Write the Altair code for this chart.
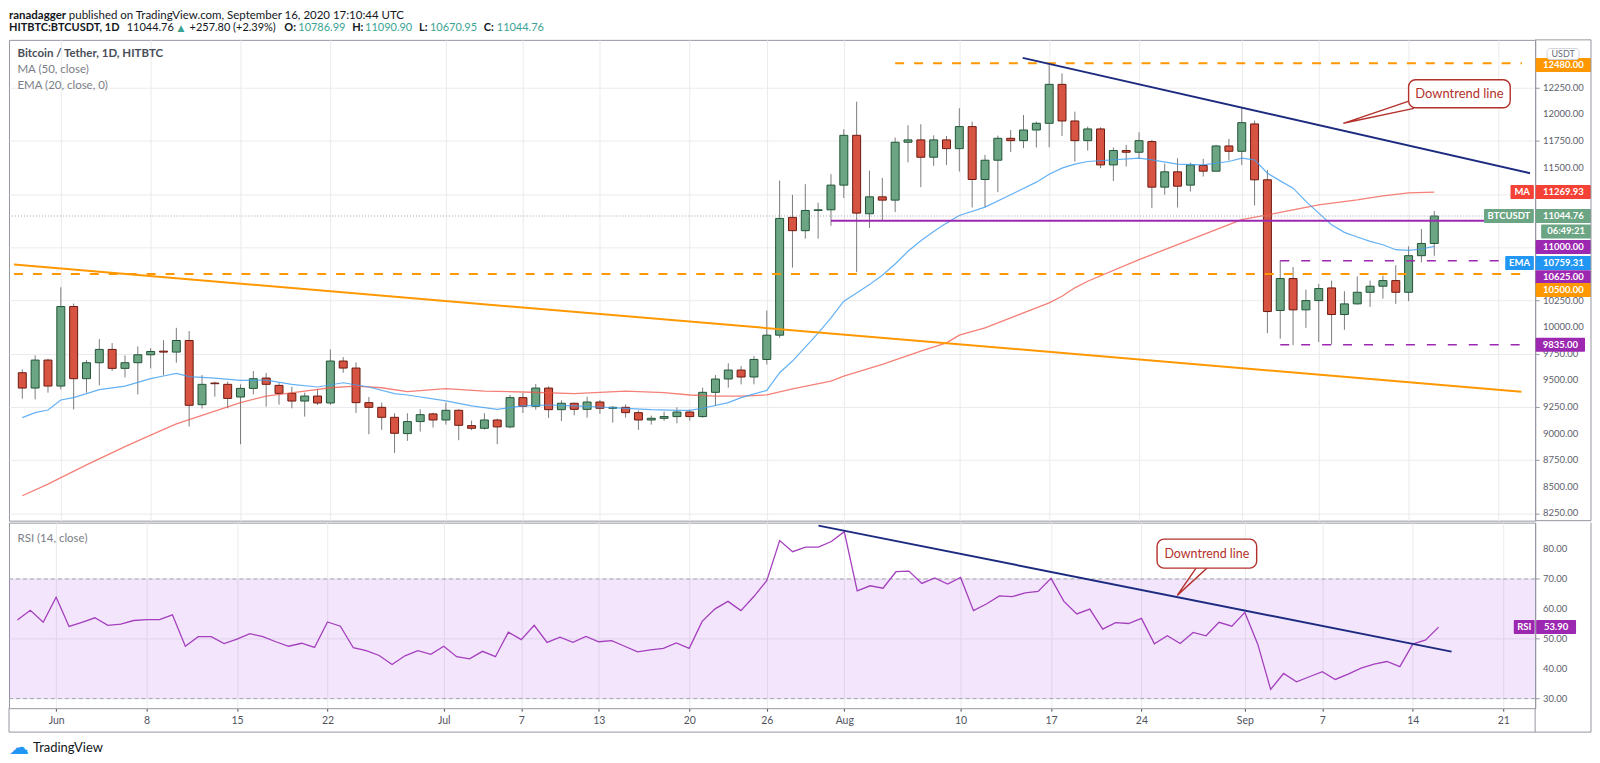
import altair as alt
import numpy as np
import pandas as pd

W = 1530
H_PRICE = 482
H_RSI = 186
FONT = "Lato"

# ---------------- data ----------------
candle_dates = pd.date_range("2020-05-29", "2020-09-16", freq="D").strftime("%Y-%m-%d").tolist()
opens = [9572, 9428, 9691,
         9447, 10194, 9516, 9666, 9791, 9613, 9666, 9741, 9775, 9766, 9875, 9272, 9475, 9463, 9344,
         9425, 9522, 9453, 9378, 9306, 9353, 9288, 9682, 9616, 9291, 9247, 9153, 9000, 9113, 9185,
         9128, 9219, 9075, 9050, 9128, 9063, 9338, 9257, 9428, 9225, 9285, 9228, 9297, 9238, 9247,
         9197, 9128, 9144, 9160, 9203, 9160, 9388, 9513, 9597, 9532, 9697, 9925, 11032, 10907, 11097, 11103,
         11335, 11803, 11066, 11225, 11194, 11738, 11760, 11597, 11760, 11678, 11885, 11388, 11569, 11775,
         11753, 11853, 11916, 12282, 11938, 11753, 11863, 11525, 11660, 11644, 11744, 11316, 11460, 11335,
         11519, 11466, 11703,
         11653, 11910, 11385, 10157, 10457, 10163, 10250, 10369, 10119, 10219, 10328, 10385, 10438, 10328,
         10672, 10787]
highs = [9603, 9735, 9703,
         10375, 10222, 9691, 9888, 9850, 9735, 9819, 9803, 9878, 9994, 9963, 9550, 9488, 9488, 9463,
         9588, 9569, 9478, 9441, 9385, 9416, 9791, 9719, 9669, 9344, 9291, 9191, 9191, 9228, 9197,
         9291, 9228, 9122, 9191, 9141, 9363, 9382, 9466, 9444, 9313, 9291, 9347, 9316, 9260, 9275,
         9219, 9169, 9206, 9247, 9225, 9432, 9550, 9660, 9635, 9728, 10157, 11378, 11244, 11344, 11169, 11438,
         11860, 12119, 11472, 11403, 11782, 11897, 11907, 11803, 11797, 12057, 11932, 11619, 11800, 11853,
         11994, 11932, 12463, 12385, 12025, 11885, 11878, 11688, 11713, 11832, 11760, 11538, 11588, 11547,
         11582, 11713, 11769,
         12063, 11941, 11478, 10628, 10566, 10353, 10407, 10438, 10338, 10478, 10438, 10485, 10582, 10760,
         10922, 11090.90]
lows = [9328, 9322, 9385,
        9416, 9228, 9385, 9453, 9588, 9528, 9369, 9613, 9547, 9666, 9066, 9235, 9347, 9238, 8900,
        9369, 9253, 9272, 9238, 9160, 9269, 9269, 9572, 9194, 8994, 9035, 8819, 8932, 9019, 9057,
        9085, 8938, 9032, 9038, 8900, 9050, 9194, 9225, 9147, 9119, 9172, 9150, 9185, 9103, 9150,
        9035, 9085, 9119, 9097, 9122, 9150, 9260, 9432, 9463, 9463, 9650, 9900, 10560, 10832, 10832, 10953,
        11213, 10519, 10932, 11000, 11082, 11550, 11316, 11516, 11525, 11463, 11125, 11128, 11269, 11647,
        11682, 11688, 11691, 11797, 11557, 11660, 11494, 11375, 11510, 11582, 11119, 11244, 11125, 11275,
        11416, 11463, 11566,
        11525, 11144, 9944, 9891, 9832, 9994, 9860, 9838, 9975, 10213, 10191, 10269, 10219, 10244,
        10610, 10670.95]
closes = [9428, 9691, 9447,
          10194, 9516, 9666, 9791, 9613, 9666, 9741, 9772, 9766, 9875, 9266, 9463, 9469, 9331, 9425,
          9516, 9463, 9378, 9306, 9353, 9288, 9682, 9616, 9291, 9247, 9153, 9003, 9113, 9178, 9128,
          9219, 9078, 9050, 9128, 9063, 9338, 9257, 9428, 9225, 9285, 9228, 9297, 9238, 9247, 9197,
          9128, 9144, 9160, 9203, 9160, 9388, 9513, 9597, 9532, 9697, 9925, 11022, 10907, 11097, 11103, 11335,
          11803, 11072, 11225, 11194, 11738, 11760, 11597, 11760, 11678, 11885, 11388, 11569, 11775, 11753,
          11853, 11916, 12282, 11938, 11753, 11863, 11525, 11660, 11644, 11753, 11316, 11460, 11325, 11525,
          11466, 11703, 11653,
          11922, 11385, 10147, 10457, 10163, 10250, 10363, 10119, 10219, 10328, 10385, 10438, 10328, 10672,
          10786.99, 11044.76]

rsi_values = [56.3, 59.5, 55.5,
              63.9, 54.1, 55.5, 57.0, 54.5, 54.9, 56.1, 56.4, 56.4, 58.0, 47.5, 50.7, 50.7, 48.4, 49.9,
              51.7, 50.7, 49.0, 47.5, 48.5, 47.1, 55.6, 54.2, 47.0, 46.0, 44.4, 41.4, 44.3, 46.0, 44.8,
              47.5, 44.0, 43.3, 45.8, 44.0, 52.2, 49.7, 54.5, 48.8, 50.5, 48.8, 50.8, 49.0, 49.4, 47.5,
              45.6, 46.3, 46.8, 48.6, 46.8, 55.8, 60.0, 62.5, 59.4, 64.1, 69.4, 82.8, 79.1, 80.6, 80.6, 82.5,
              85.8, 66.0, 67.7, 66.9, 72.4, 72.6, 68.5, 70.3, 68.3, 70.5, 59.4, 61.6, 64.3, 64.1, 65.3,
              65.8, 70.2, 62.5, 58.3, 59.9, 53.2, 55.4, 55.1, 56.8, 48.3, 51.0, 48.4, 52.1, 51.0, 55.5, 54.2,
              58.8, 48.2, 33.1, 38.4, 35.6, 37.3, 39.0, 36.4, 38.2, 40.2, 41.5, 42.4, 40.7, 48.2, 49.6, 53.9]

ma_dates = ["2020-05-29", "2020-05-31", "2020-06-03", "2020-06-06", "2020-06-08", "2020-06-10", "2020-06-12",
            "2020-06-15", "2020-06-17", "2020-06-20", "2020-06-22", "2020-06-24", "2020-06-26", "2020-06-28",
            "2020-07-01", "2020-07-04", "2020-07-07", "2020-07-11", "2020-07-15", "2020-07-18", "2020-07-20",
            "2020-07-22", "2020-07-24", "2020-07-26", "2020-07-28", "2020-07-31", "2020-08-01", "2020-08-04",
            "2020-08-07", "2020-08-09", "2020-08-10", "2020-08-12", "2020-08-14", "2020-08-16", "2020-08-17",
            "2020-08-18", "2020-08-19", "2020-08-20", "2020-08-24", "2020-08-27", "2020-08-30", "2020-09-01",
            "2020-09-03", "2020-09-05", "2020-09-07", "2020-09-10", "2020-09-12", "2020-09-14", "2020-09-16"]
ma_values = [8416, 8525, 8706, 8878, 8985, 9091, 9172, 9291, 9353, 9400, 9431, 9447, 9431, 9394,
             9422, 9400, 9391, 9375, 9400, 9385, 9363, 9353, 9353, 9363, 9420, 9494, 9541, 9650,
             9775, 9853, 9925, 9994, 10088, 10182, 10228, 10291, 10370, 10432, 10635, 10775, 10916, 11010,
             11056, 11103, 11150, 11197, 11235, 11262, 11269.93]

ema_dates = ["2020-05-29", "2020-05-30", "2020-05-31",
             "2020-06-01", "2020-06-02", "2020-06-04", "2020-06-06", "2020-06-08", "2020-06-09", "2020-06-10",
             "2020-06-11", "2020-06-13", "2020-06-15", "2020-06-17", "2020-06-19", "2020-06-21", "2020-06-23",
             "2020-06-25", "2020-06-27", "2020-06-28",
             "2020-07-01", "2020-07-03", "2020-07-05", "2020-07-07", "2020-07-09", "2020-07-11", "2020-07-13",
             "2020-07-15", "2020-07-17", "2020-07-19", "2020-07-20", "2020-07-21", "2020-07-23", "2020-07-24",
             "2020-07-26", "2020-07-27", "2020-07-28", "2020-07-29", "2020-07-30", "2020-07-31",
             "2020-08-01", "2020-08-02", "2020-08-03", "2020-08-04", "2020-08-05", "2020-08-06", "2020-08-07",
             "2020-08-08", "2020-08-09", "2020-08-10", "2020-08-12", "2020-08-14", "2020-08-16", "2020-08-17",
             "2020-08-18", "2020-08-19", "2020-08-20", "2020-08-24", "2020-08-25", "2020-08-27", "2020-08-29",
             "2020-08-31",
             "2020-09-01", "2020-09-02", "2020-09-03", "2020-09-04", "2020-09-05", "2020-09-06", "2020-09-07",
             "2020-09-08", "2020-09-09", "2020-09-10", "2020-09-11", "2020-09-12", "2020-09-13", "2020-09-14",
             "2020-09-15", "2020-09-16"]
ema_values = [9150, 9197, 9222,
              9316, 9338, 9413, 9447, 9516, 9541, 9566, 9535, 9522, 9500, 9503, 9463, 9438, 9478, 9438, 9375, 9363,
              9307, 9260, 9228, 9260, 9269, 9260, 9250, 9238, 9225, 9219, 9219, 9238, 9291, 9338, 9406, 9572,
              9682, 9813, 9944, 10088,
              10244, 10322, 10400, 10488, 10594, 10713, 10813, 10900, 10978, 11050, 11128, 11244, 11363, 11438,
              11495, 11532, 11557, 11588, 11572, 11532, 11525, 11557,
              11588, 11572, 11447, 11375, 11307, 11182, 11072, 10963, 10891, 10847, 10806, 10775, 10728, 10722,
              10735, 10759.31]

# horizontal levels drawn on the chart
level_names = ["r12480", "s10500", "s11000", "b10625", "b9835"]
level_values = [12480, 10500, 11000, 10625, 9835]
level_starts = ["2020-08-05T00:00:00Z", "2020-05-28T08:27:00Z", "2020-07-31T00:00:00Z",
                "2020-09-04T00:00:00Z", "2020-09-04T00:00:00Z"]
level_ends = ["2020-09-22T20:00:00Z", "2020-09-22T20:00:00Z", "2020-09-20T00:00:00Z",
              "2020-09-22T20:00:00Z", "2020-09-22T20:00:00Z"]
last_price = 11044.76
ma_last = 11269.93
ema_last = 10759.31
rsi_last = 53.90

# trend lines (start, value, end, value)
orange_trend = ("2020-05-28T08:27:00Z", 10588, "2020-09-22T19:00:00Z", 9394)
price_down_trend = ("2020-08-14T22:30:00Z", 12531, "2020-09-23T11:00:00Z", 11447)
rsi_down_trend = ("2020-07-30T00:00:00Z", 87.8, "2020-09-17T00:00:00Z", 45.7)

x_tick_dates = [(6, 1), (6, 8), (6, 15), (6, 22), (7, 1), (7, 7), (7, 13), (7, 20), (7, 26),
                (8, 1), (8, 10), (8, 17), (8, 24), (9, 1), (9, 7), (9, 14), (9, 21)]
price_ticks = list(range(8250, 12251, 250))
# axis labels that are not hidden behind the price tags
price_tick_labels = [8250, 8500, 8750, 9000, 9250, 9500, 9750, 10000, 10250, 11500, 11750, 12000, 12250]
rsi_ticks = [30, 40, 50, 60, 70, 80]

# ---------------- styles ----------------
ORANGE = "#ff9800"
PURPLE = "#9c27b0"
NAVY = "#1c2a80"
RED = "#f44336"
GREEN = "#6ba583"
BLUE = "#2196f3"
BORDER = "#9598a1"
GRID = "#ebebed"
AXIS_TXT = "#5d606b"
CALLOUT = "#b3302b"

XS = alt.Scale(type="utc", nice=False,
               domain=[alt.DateTime(year=2020, month=5, date=28, hours=8, minutes=27, utc=True),
                       alt.DateTime(year=2020, month=9, date=23, hours=11, minutes=17, utc=True)])
YS = alt.Scale(domain=[8182, 12700], zero=False, nice=False)
RS = alt.Scale(domain=[26.8, 88.8], zero=False, nice=False)
XTICKS = [alt.DateTime(year=2020, month=m, date=d, utc=True) for m, d in x_tick_dates]


def xe(field, axis=None):
    kw = dict(scale=XS, title=None)
    if axis is not None:
        kw["axis"] = axis
    return alt.X(f"{field}:T", **kw)


def ype(field, axis=None):
    kw = dict(scale=YS, title=None)
    if axis is not None:
        kw["axis"] = axis
    return alt.Y(f"{field}:Q", **kw)


def yre(field, axis=None):
    kw = dict(scale=RS, title=None)
    if axis is not None:
        kw["axis"] = axis
    return alt.Y(f"{field}:Q", **kw)


def label(text, x, y, **kw):
    props = dict(align="left", baseline="middle", font=FONT, fontSize=11.5, color="#131722")
    props.update(kw)
    return alt.Chart(pd.DataFrame({"t": [text]})).mark_text(**props).encode(
        x=alt.value(x), y=alt.value(y), text="t:N")


def frame(x, y, x2=None, y2=None):
    enc = dict(x=alt.value(x), y=alt.value(y))
    if x2 is not None:
        enc["x2"] = alt.value(x2)
    if y2 is not None:
        enc["y2"] = alt.value(y2)
    return alt.Chart(pd.DataFrame({"a": [0]})).mark_rule(color=BORDER, strokeWidth=1).encode(**enc)


def axis_labels(values, yfn):
    return alt.Chart(pd.DataFrame({"v": values})).transform_calculate(
        t="format(datum.v, '.2f')").mark_text(
        align="left", baseline="middle", fontSize=9.5, color=AXIS_TXT, font=FONT).encode(
        x=alt.value(W + 8), y=yfn("v"), text="t:N")


def tag(value, text, fill, x0, x1, dy, yfn):
    d = pd.DataFrame({"v": [value], "t": [text]})
    rect = alt.Chart(d).mark_rect(fill=fill, yOffset=dy - 7, y2Offset=dy + 7, cornerRadius=1).encode(
        x=alt.value(x0), x2=alt.value(x1), y=yfn("v"), y2="v")
    txt = alt.Chart(d).mark_text(color="white", fontWeight="bold", fontSize=9.5, dy=dy, font=FONT,
                                 align="center", baseline="middle").encode(
        x=alt.value((x0 + x1) / 2), y=yfn("v"), text="t:N")
    return [rect, txt]


def segment(seg, yfn, **style):
    d = pd.DataFrame({"s": [seg[0]], "v": [seg[1]], "e": [seg[2]], "v2": [seg[3]]})
    return alt.Chart(d).mark_rule(**style).encode(x=xe("s"), x2=alt.X2("e"), y=yfn("v"), y2="v2")


def callout(box, tail, text, yfn, fs=12.5):
    (x0, x1, ylo, yhi) = box
    td = pd.DataFrame({"d": [p[0] for p in tail], "v": [p[1] for p in tail], "o": [0, 1, 2]})
    tail_l = alt.Chart(td).mark_line(color=CALLOUT, strokeWidth=1.4).encode(
        x=xe("d"), y=yfn("v"), order="o:Q")
    bd = pd.DataFrame({"s": [x0], "e": [x1], "lo": [ylo], "hi": [yhi]})
    box_l = alt.Chart(bd).mark_rect(fill="white", stroke=CALLOUT, strokeWidth=1.4, cornerRadius=7).encode(
        x=xe("s"), x2=alt.X2("e"), y=yfn("hi"), y2="lo")
    mid = pd.DataFrame({"s": [x0], "e": [x1], "m": [(ylo + yhi) / 2], "t": [text]})
    txt = alt.Chart(mid).transform_calculate(
        c="(toDate(datum.s) + toDate(datum.e)) / 2").mark_text(
        color=CALLOUT, fontSize=fs, font=FONT, align="center", baseline="middle").encode(
        x=alt.X("c:T", scale=XS, title=None), y=yfn("m"), text="t:N")
    return [tail_l, box_l, txt]


# ---------------- price panel ----------------
cdf = pd.DataFrame({"date": candle_dates, "open": opens, "high": highs, "low": lows, "close": closes})
cdf["dir"] = np.where(cdf["close"] >= cdf["open"], "up", "down")

price_x_axis = alt.Axis(values=XTICKS, labels=False, ticks=False, domain=False, grid=True, gridColor=GRID)
price_y_axis = alt.Axis(orient="right", values=price_ticks, labels=False, tickSize=4,
                        grid=True, gridColor=GRID, domainColor=BORDER, tickColor=BORDER)

wicks = alt.Chart(cdf).mark_rule(color="#7b7b7e", strokeWidth=1).encode(
    x=xe("date", price_x_axis), y=ype("low", price_y_axis), y2="high")
bodies = alt.Chart(cdf).mark_bar(size=8, strokeWidth=1).encode(
    x=xe("date"), y=ype("open"), y2="close",
    fill=alt.Fill("dir:N", scale=alt.Scale(domain=["up", "down"], range=[GREEN, "#d75442"]), legend=None),
    stroke=alt.Stroke("dir:N", scale=alt.Scale(domain=["up", "down"], range=["#225437", "#6b1a10"]), legend=None))

ma_line = alt.Chart(pd.DataFrame({"d": ma_dates, "v": ma_values})).mark_line(
    color="#f2554a", strokeWidth=1.3, opacity=0.75).encode(x=xe("d"), y=ype("v"))
ema_line = alt.Chart(pd.DataFrame({"d": ema_dates, "v": ema_values})).mark_line(
    color="#3d9df2", strokeWidth=1.2, opacity=0.8).encode(x=xe("d"), y=ype("v"))

lp = pd.DataFrame({"v": [last_price]})
last_line = alt.Chart(lp).mark_rule(color="#a3a6ae", strokeWidth=1, strokeDash=[1, 2]).encode(
    x=alt.value(0), x2=alt.value(W), y=ype("v"))

lev = pd.DataFrame({"name": level_names, "v": level_values, "s": level_starts, "e": level_ends})
level_styles = {
    "r12480": dict(color=ORANGE, strokeWidth=2, strokeDash=[9, 10]),
    "s10500": dict(color=ORANGE, strokeWidth=2, strokeDash=[9, 10]),
    "s11000": dict(color=PURPLE, strokeWidth=2),
    "b10625": dict(color=PURPLE, strokeWidth=1.6, strokeDash=[9, 12]),
    "b9835": dict(color=PURPLE, strokeWidth=1.6, strokeDash=[9, 12]),
}
level_layers = [
    alt.Chart(lev).transform_filter(alt.datum.name == n).mark_rule(**st).encode(
        x=xe("s"), x2=alt.X2("e"), y=ype("v"))
    for n, st in level_styles.items()
]

trend_layers = [
    segment(orange_trend, ype, color=ORANGE, strokeWidth=2),
    segment(price_down_trend, ype, color=NAVY, strokeWidth=2),
]

price_callout = callout(("2020-09-14T00:00:00Z", "2020-09-21T22:00:00Z", 12062, 12325),
                        [("2020-09-14T02:00:00Z", 12126), ("2020-09-08T22:00:00Z", 11916),
                         ("2020-09-14T10:00:00Z", 12056)],
                        "Downtrend line", ype, fs=13)

ptags = []
ptags += tag(12480, "12480.00", ORANGE, W + 0.5, W + 56, 1.8, ype)
ptags += tag(ma_last, "11269.93", RED, W + 0.5, W + 56, 0, ype)
ptags += tag(ma_last, "MA", RED, W - 24.7, W - 1.3, 0, ype)
ptags += tag(last_price, "11044.76", GREEN, W + 0.5, W + 56, 0, ype)
ptags += tag(last_price, "BTCUSDT", GREEN, W - 51.3, W - 1.3, 0, ype)
ptags += tag(last_price, "06:49:21", GREEN, W + 6, W + 56, 15.5, ype)
ptags += tag(11000, "11000.00", PURPLE, W + 0.5, W + 56, 26.3, ype)
ptags += tag(ema_last, "10759.31", BLUE, W + 0.5, W + 56, 16.6, ype)
ptags += tag(ema_last, "EMA", BLUE, W - 30, W - 1.3, 16.6, ype)
ptags += tag(10625, "10625.00", PURPLE, W + 0.5, W + 56, 16.6, ype)
ptags += tag(10500, "10500.00", ORANGE, W + 0.5, W + 56, 16, ype)
ptags += tag(9835, "9835.00", PURPLE, W + 0.5, W + 50, 0, ype)

usdt_box = alt.Chart(pd.DataFrame({"a": [0]})).mark_rect(
    fill="white", stroke="#d1d4dc", cornerRadius=3).encode(
    x=alt.value(W + 12), x2=alt.value(W + 44), y=alt.value(8.7), y2=alt.value(19.7))
usdt_txt = label("USDT", W + 28, 14.2, align="center", fontSize=9, color="#6a6d78")

legend_p = [
    label("Bitcoin / Tether, 1D, HITBTC", 8.5, 14.5, fontWeight="bold", color="#4a4e59", fontSize=11.5),
    label("MA (50, close)", 8.5, 30.5, color="#7b7e87", fontSize=11.5),
    label("EMA (20, close, 0)", 8.5, 46.5, color="#7b7e87", fontSize=11.5),
]

TEAL = "#3aa394"
HB = -21
H2B = -8.7
HFS = 11
header = [
    label("ranadagger", 0, HB, baseline="alphabetic", fontWeight="bold", fontSize=11.5),
    label("published on TradingView.com, September 16, 2020 17:10:44 UTC", 60, HB,
          baseline="alphabetic", fontSize=11.5),
    label("HITBTC:BTCUSDT, 1D", 0, H2B, baseline="alphabetic", fontWeight="bold", fontSize=HFS),
    label("11044.76", 118, H2B, baseline="alphabetic", fontSize=HFS),
    label("▲", 169, H2B, baseline="alphabetic", fontSize=9, color=TEAL, font="DejaVu Sans"),
    label("+257.80 (+2.39%)", 181, H2B, baseline="alphabetic", fontSize=HFS),
    label("O:", 276, H2B, baseline="alphabetic", fontWeight="bold", fontSize=HFS),
    label("10786.99", 290, H2B, baseline="alphabetic", fontSize=HFS, color=TEAL),
    label("H:", 344, H2B, baseline="alphabetic", fontWeight="bold", fontSize=HFS),
    label("11090.90", 357, H2B, baseline="alphabetic", fontSize=HFS, color=TEAL),
    label("L:", 411, H2B, baseline="alphabetic", fontWeight="bold", fontSize=HFS),
    label("10670.95", 422, H2B, baseline="alphabetic", fontSize=HFS, color=TEAL),
    label("C:", 476, H2B, baseline="alphabetic", fontWeight="bold", fontSize=HFS),
    label("11044.76", 489, H2B, baseline="alphabetic", fontSize=HFS, color=TEAL),
]

price_frame = [frame(W, 0, x2=W + 56), frame(W + 56, 0, y2=H_PRICE), frame(W, H_PRICE, x2=W + 56)]

price = alt.layer(
    wicks, bodies, ma_line, ema_line, last_line, *level_layers, *trend_layers, *price_callout,
    axis_labels(price_tick_labels, ype), *ptags, usdt_box, usdt_txt, *legend_p, *header, *price_frame
).properties(width=W, height=H_PRICE)

# ---------------- RSI panel ----------------
rdf = pd.DataFrame({"date": candle_dates, "rsi": rsi_values})
rsi_x_axis = alt.Axis(values=XTICKS, grid=True, gridColor=GRID, domain=False, tickSize=3, tickColor="#50535e",
                      labelPadding=4, labelFontSize=10.5, labelColor="#50535e", labelOverlap=False,
                      labelExpr="utcdate(datum.value) == 1 ? utcFormat(datum.value, '%b') : utcFormat(datum.value, '%-d')")
rsi_y_axis = alt.Axis(orient="right", values=rsi_ticks, labels=False, tickSize=4,
                      grid=True, gridColor=GRID, domainColor=BORDER, tickColor=BORDER)

band = alt.Chart(pd.DataFrame({"lo": [30], "hi": [70]})).mark_rect(fill="#9b26e6", opacity=0.12).encode(
    x=alt.value(0), x2=alt.value(W), y=yre("hi", rsi_y_axis), y2="lo")
band_edges = alt.Chart(pd.DataFrame({"v": [30, 70]})).mark_rule(
    color="#a6a6ae", strokeWidth=1, strokeDash=[4, 3]).encode(x=alt.value(0), x2=alt.value(W), y=yre("v"))
rsi_line = alt.Chart(rdf).mark_line(color="#a43fbd", strokeWidth=1.3).encode(
    x=xe("date", rsi_x_axis), y=yre("rsi"))
rsi_trend = segment(rsi_down_trend, yre, color=NAVY, strokeWidth=2)
rsi_callout = callout(("2020-08-25T05:00:00Z", "2020-09-01T22:00:00Z", 73.6, 83.3),
                      [("2020-08-28T09:00:00Z", 74.5), ("2020-08-26T18:30:00Z", 64.5),
                       ("2020-08-29T07:00:00Z", 74.5)],
                      "Downtrend line", yre, fs=12.5)
rtags = []
rtags += tag(rsi_last, "53.90", PURPLE, W + 1, W + 41, 0, yre)
rtags += tag(rsi_last, "RSI", PURPLE, W - 21.4, W - 0.5, 0, yre)

rsi_legend = label("RSI (14, close)", 8.5, 16, color="#7b7e87", fontSize=11.5)
rsi_frame = [frame(W + 56, 0, y2=H_RSI + 24), frame(0, H_RSI + 24, x2=W + 56),
             frame(0, H_RSI, y2=H_RSI + 24), frame(W, H_RSI, y2=H_RSI + 24)]
logo_icon = label("☁", 0, H_RSI + 40, color=BLUE, fontSize=20, font="DejaVu Sans")
logo_txt = label("TradingView", 24, H_RSI + 40, color="#131722", fontSize=13)

rsi = alt.layer(
    band, band_edges, rsi_line, rsi_trend, *rsi_callout, axis_labels(rsi_ticks, yre), *rtags,
    rsi_legend, *rsi_frame, logo_icon, logo_txt
).properties(width=W, height=H_RSI)

chart = alt.vconcat(price, rsi, spacing=0).properties(
    padding={"left": 0, "top": 0, "right": 0, "bottom": 0}, background="white"
).configure(font=FONT).configure_view(stroke=BORDER, strokeWidth=1).configure_axis(labelFont=FONT)

chart.save("out.html", embed_options={"renderer": "svg", "actions": False})
